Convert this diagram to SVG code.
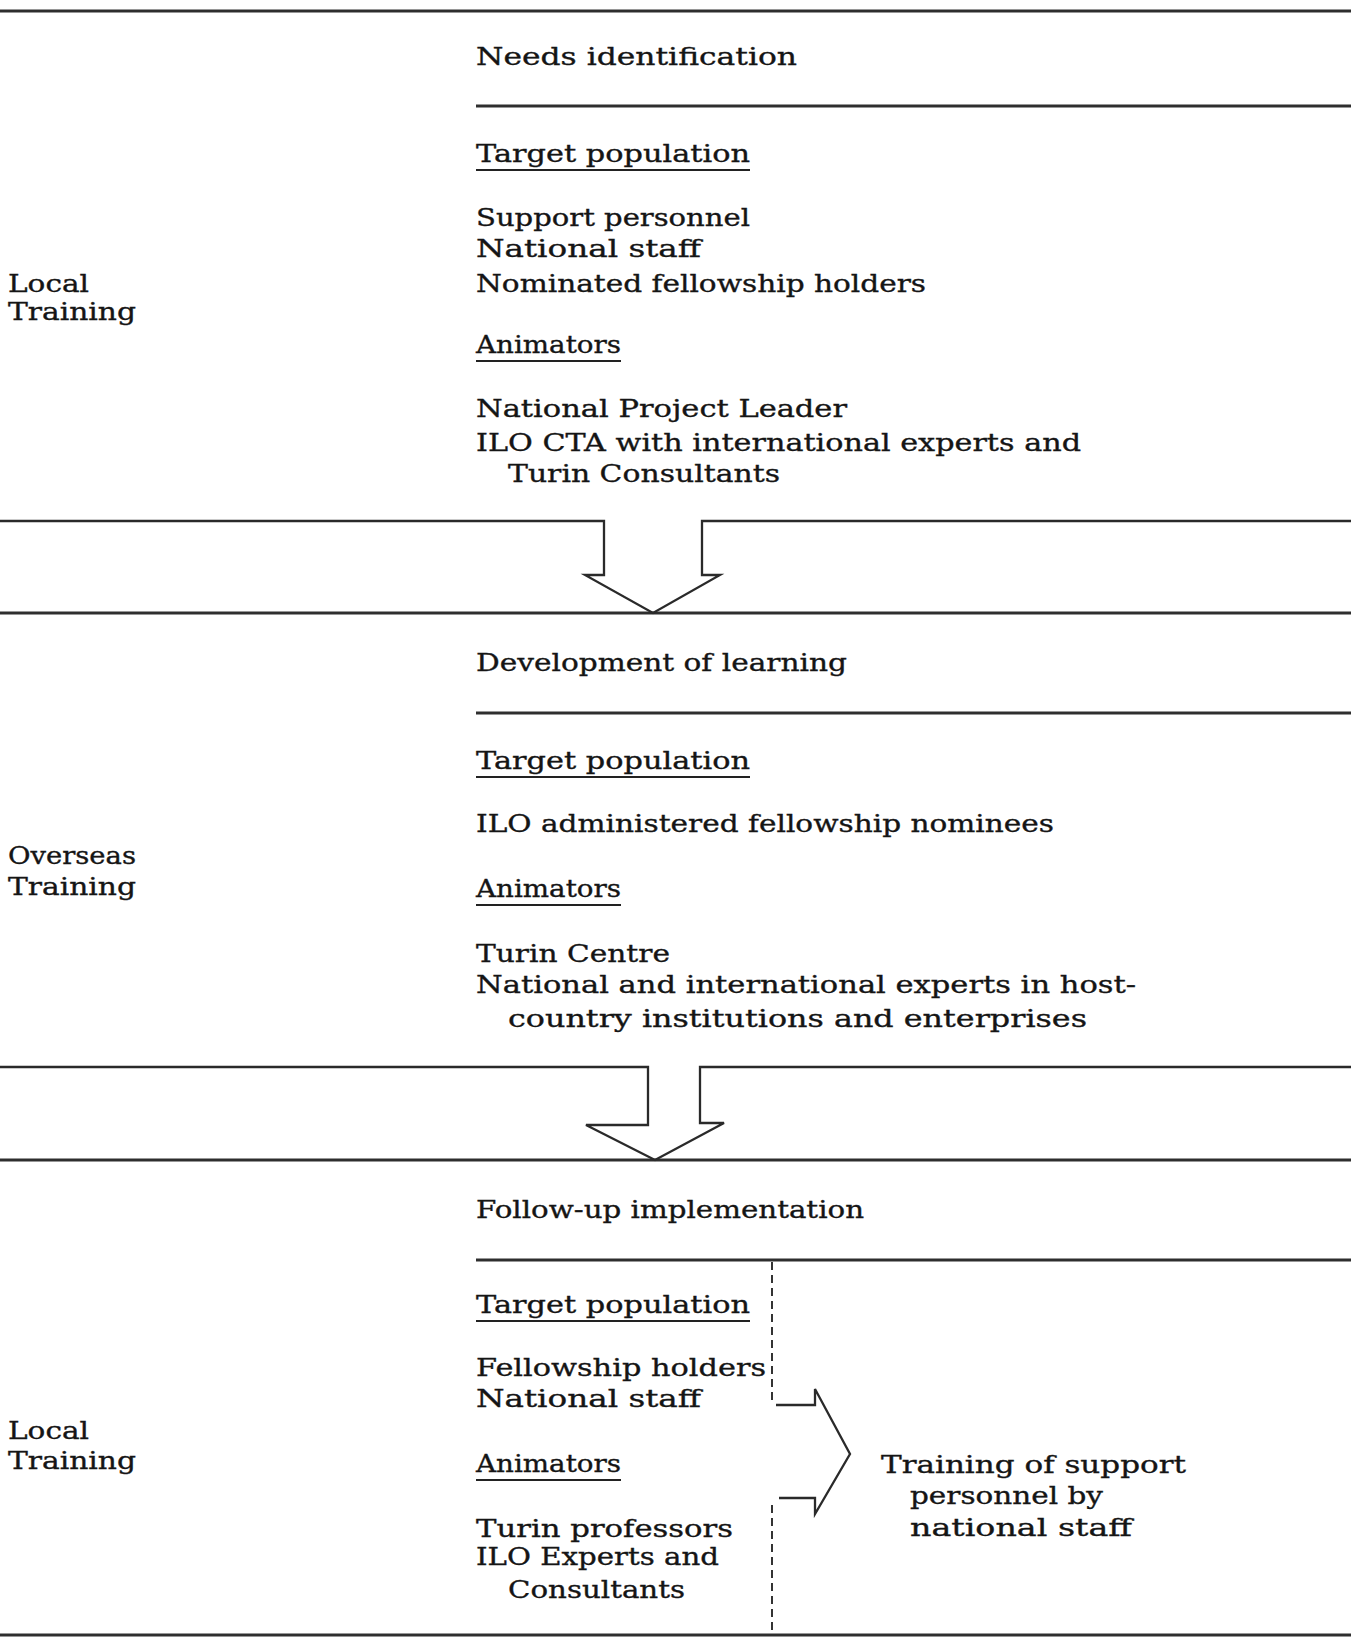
<svg xmlns="http://www.w3.org/2000/svg" width="1351" height="1639" viewBox="0 0 1351 1639">
<style>
 text { font-family: "DejaVu Serif", "Liberation Serif", serif; font-size: 25px; fill: #151515; stroke: #151515; stroke-width: 0.35px; }
 .rule { stroke: #2e2e2e; stroke-width: 2.8; fill: none; }
 .ul { stroke: #222222; stroke-width: 2.2; fill: none; }
 .arrow { stroke: #2a2a2a; stroke-width: 2.3; fill: none; stroke-linejoin: miter; }
 .dash { stroke: #2a2a2a; stroke-width: 1.9; stroke-dasharray: 8 5; fill: none; }
</style>
<rect width="1351" height="1639" fill="#ffffff"/>

<g id="rules">
 <line class="rule" x1="0" y1="11" x2="1351" y2="11"/>
 <line class="rule" x1="476" y1="106" x2="1351" y2="106"/>
 <line class="rule" x1="0" y1="613" x2="1351" y2="613"/>
 <line class="rule" x1="476" y1="713" x2="1351" y2="713"/>
 <line class="rule" x1="0" y1="1160" x2="1351" y2="1160"/>
 <line class="rule" x1="476" y1="1260" x2="1351" y2="1260"/>
 <line class="rule" x1="0" y1="1635" x2="1351" y2="1635"/>
</g>

<g id="connectors">
 <path class="arrow" d="M0,521 H604 V575 H585 L653,613 L720,575 H702 V521 H1351"/>
 <path class="arrow" d="M0,1067 H648 V1125 H586 L655,1160 L724,1123 H700 V1067 H1351"/>
 <line class="dash" x1="772" y1="1262" x2="772" y2="1404"/>
 <line class="dash" x1="772" y1="1505" x2="772" y2="1634"/>
 <path class="arrow" d="M776,1405 H815 V1389 L850,1454 L815,1514 V1498 H779"/>
</g>

<g id="stage1">
 <text x="476" y="65" textLength="321" lengthAdjust="spacingAndGlyphs">Needs identification</text>
</g>

<g id="local-training-1">
 <text x="8" y="292" textLength="81" lengthAdjust="spacingAndGlyphs">Local</text>
 <text x="8" y="320" textLength="128" lengthAdjust="spacingAndGlyphs">Training</text>
</g>

<g id="target-population-1">
 <text x="476" y="162" textLength="274" lengthAdjust="spacingAndGlyphs">Target population</text>
 <line class="ul" x1="476" y1="170" x2="750" y2="170"/>
 <text x="476" y="226" textLength="274" lengthAdjust="spacingAndGlyphs">Support personnel</text>
 <text x="476" y="257" textLength="225" lengthAdjust="spacingAndGlyphs">National staff</text>
 <text x="476" y="292" textLength="450" lengthAdjust="spacingAndGlyphs">Nominated fellowship holders</text>
</g>

<g id="animators-1">
 <text x="476" y="353" textLength="145" lengthAdjust="spacingAndGlyphs">Animators</text>
 <line class="ul" x1="476" y1="361" x2="621" y2="361"/>
 <text x="476" y="417" textLength="371" lengthAdjust="spacingAndGlyphs">National Project Leader</text>
 <text x="476" y="451" textLength="605" lengthAdjust="spacingAndGlyphs">ILO CTA with international experts and</text>
 <text x="508" y="482" textLength="272" lengthAdjust="spacingAndGlyphs">Turin Consultants</text>
</g>

<g id="stage2">
 <text x="476" y="671" textLength="371" lengthAdjust="spacingAndGlyphs">Development of learning</text>
</g>

<g id="overseas-training">
 <text x="8" y="864" textLength="128" lengthAdjust="spacingAndGlyphs">Overseas</text>
 <text x="8" y="895" textLength="128" lengthAdjust="spacingAndGlyphs">Training</text>
</g>

<g id="target-population-2">
 <text x="476" y="769" textLength="274" lengthAdjust="spacingAndGlyphs">Target population</text>
 <line class="ul" x1="476" y1="777" x2="750" y2="777"/>
 <text x="476" y="832" textLength="578" lengthAdjust="spacingAndGlyphs">ILO administered fellowship nominees</text>
</g>

<g id="animators-2">
 <text x="476" y="897" textLength="145" lengthAdjust="spacingAndGlyphs">Animators</text>
 <line class="ul" x1="476" y1="905" x2="621" y2="905"/>
 <text x="476" y="962" textLength="194" lengthAdjust="spacingAndGlyphs">Turin Centre</text>
 <text x="476" y="993" textLength="660" lengthAdjust="spacingAndGlyphs">National and international experts in host-</text>
 <text x="508" y="1027" textLength="579" lengthAdjust="spacingAndGlyphs">country institutions and enterprises</text>
</g>

<g id="stage3">
 <text x="476" y="1218" textLength="388" lengthAdjust="spacingAndGlyphs">Follow-up implementation</text>
</g>

<g id="local-training-2">
 <text x="8" y="1439" textLength="81" lengthAdjust="spacingAndGlyphs">Local</text>
 <text x="8" y="1469" textLength="128" lengthAdjust="spacingAndGlyphs">Training</text>
</g>

<g id="target-population-3">
 <text x="476" y="1313" textLength="274" lengthAdjust="spacingAndGlyphs">Target population</text>
 <line class="ul" x1="476" y1="1321" x2="750" y2="1321"/>
 <text x="476" y="1376" textLength="290" lengthAdjust="spacingAndGlyphs">Fellowship holders</text>
 <text x="476" y="1407" textLength="225" lengthAdjust="spacingAndGlyphs">National staff</text>
</g>

<g id="animators-3">
 <text x="476" y="1472" textLength="145" lengthAdjust="spacingAndGlyphs">Animators</text>
 <line class="ul" x1="476" y1="1480" x2="621" y2="1480"/>
 <text x="476" y="1537" textLength="257" lengthAdjust="spacingAndGlyphs">Turin professors</text>
 <text x="476" y="1565" textLength="243" lengthAdjust="spacingAndGlyphs">ILO Experts and</text>
 <text x="508" y="1598" textLength="177" lengthAdjust="spacingAndGlyphs">Consultants</text>
</g>

<g id="training-support">
 <text x="881" y="1473" textLength="305" lengthAdjust="spacingAndGlyphs">Training of support</text>
 <text x="910" y="1504" textLength="193" lengthAdjust="spacingAndGlyphs">personnel by</text>
 <text x="910" y="1536" textLength="222" lengthAdjust="spacingAndGlyphs">national staff</text>
</g>
</svg>
